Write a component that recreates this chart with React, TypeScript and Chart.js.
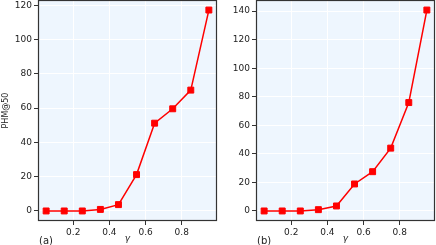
import React, { useEffect, useRef } from "react";
import { Chart, registerables } from "chart.js";

Chart.register(...registerables);

const gammaValues = [0.05, 0.15, 0.25, 0.35, 0.45, 0.55, 0.65, 0.75, 0.85, 0.95];
const phmA = [0, 0, 0, 0.9, 3.7, 21.2, 51.2, 59.6, 70.5, 117.2];
const phmB = [0, 0, 0, 0.9, 3.5, 18.9, 27.5, 44.0, 75.9, 140.7];
const xTicks = [0.2, 0.4, 0.6, 0.8];
const yTicksA = [0, 20, 40, 60, 80, 100, 120];
const yTicksB = [0, 20, 40, 60, 80, 100, 120, 140];
const xLabel = "γ";
const yLabelA = "PHM@50";
const tagA = "(a)";
const tagB = "(b)";

const FONT = "'DejaVu Sans', sans-serif";
const TEXT = "#222";

function margins(vals: number[]) {
  const lo = Math.min(...vals);
  const hi = Math.max(...vals);
  const m = (hi - lo) * 0.05;
  return [lo - m, hi + m];
}

function Panel(props: { values: number[]; yTicks: number[]; tag: string; yLabel?: string }) {
  const ref = useRef<HTMLCanvasElement | null>(null);
  useEffect(() => {
    const canvas = ref.current!;
    const [xMin, xMax] = margins(gammaValues);
    const [yMin, yMax] = margins(props.values);
    const decor = {
      id: "decor",
      beforeDraw(chart: any) {
        const { ctx, chartArea: a } = chart;
        ctx.save();
        ctx.fillStyle = "#eef6fe";
        ctx.fillRect(a.left, a.top, a.right - a.left, a.bottom - a.top);
        ctx.restore();
      },
      afterDraw(chart: any) {
        const { ctx, chartArea: a } = chart;
        ctx.save();
        ctx.strokeStyle = "#333";
        ctx.lineWidth = 1.2;
        ctx.strokeRect(a.left + 0.5, a.top + 0.5, a.right - a.left - 1, a.bottom - a.top - 1);
        ctx.fillStyle = TEXT;
        ctx.textAlign = "center";
        ctx.textBaseline = "middle";
        ctx.font = `italic 9px ${FONT}`;
        ctx.fillText(xLabel, (a.left + a.right) / 2, 239);
        ctx.textAlign = "left";
        ctx.font = `10px ${FONT}`;
        ctx.fillText(props.tag, a.left + 1, 241);
        if (props.yLabel) {
          ctx.translate(6, (a.top + a.bottom) / 2);
          ctx.rotate(-Math.PI / 2);
          ctx.textAlign = "center";
          ctx.font = `8px ${FONT}`;
          ctx.fillText(props.yLabel, 0, 0);
        }
        ctx.restore();
      },
    };
    const chart = new Chart(canvas, {
      type: "line",
      data: {
        datasets: [
          {
            data: gammaValues.map((x, i) => ({ x, y: props.values[i] })),
            borderColor: "#ff0000",
            backgroundColor: "#ff0000",
            borderWidth: 1.5,
            pointStyle: "rect",
            pointRadius: 4.2,
            pointBorderWidth: 1,
            pointBorderColor: "#ff0000",
            pointBackgroundColor: "#ff0000",
            tension: 0,
          },
        ],
      },
      options: {
        responsive: false,
        animation: false,
        layout: { autoPadding: false, padding: { top: 0, right: 1, left: 0, bottom: 0 } },
        plugins: { legend: { display: false }, tooltip: { enabled: false } },
        scales: {
          x: {
            type: "linear",
            min: xMin,
            max: xMax,
            border: { display: false },
            grid: { color: "#ffffff", lineWidth: 1, tickColor: "#333", tickLength: 4, tickWidth: 1 },
            ticks: { font: { family: FONT, size: 9 }, color: TEXT, padding: 2, maxRotation: 0,
              callback: (v: any) => Number(v).toFixed(1) },
            afterBuildTicks: (s: any) => { s.ticks = xTicks.map((v) => ({ value: v })); },
            afterFit: (s: any) => {
              s.height = 24;
              s.paddingLeft = 0; s.paddingRight = 0; s.paddingTop = 0; s.paddingBottom = 0;
            },
          },
          y: {
            type: "linear",
            min: yMin,
            max: yMax,
            border: { display: false },
            grid: { color: "#ffffff", lineWidth: 1, tickColor: "#333", tickLength: 4, tickWidth: 1 },
            ticks: { font: { family: FONT, size: 9 }, color: TEXT, padding: 2,
              callback: (v: any) => String(Math.round(Number(v))) },
            afterBuildTicks: (s: any) => { s.ticks = props.yTicks.map((v) => ({ value: v })); },
            afterFit: (s: any) => {
              s.width = 38;
              s.paddingLeft = 0; s.paddingRight = 0; s.paddingTop = 0; s.paddingBottom = 0;
            },
          },
        },
      } as any,
      plugins: [decor],
    });
    return () => chart.destroy();
  }, []);
  return <canvas ref={ref} width={218} height={245} style={{ display: "block", width: 218, height: 245 }} />;
}

export default function App() {
  return (
    <div style={{ position: "absolute", left: 0, top: 0, width: 436, height: 245, display: "flex", background: "#fff" }}>
      <Panel values={phmA} yTicks={yTicksA} tag={tagA} yLabel={yLabelA} />
      <Panel values={phmB} yTicks={yTicksB} tag={tagB} />
    </div>
  );
}
